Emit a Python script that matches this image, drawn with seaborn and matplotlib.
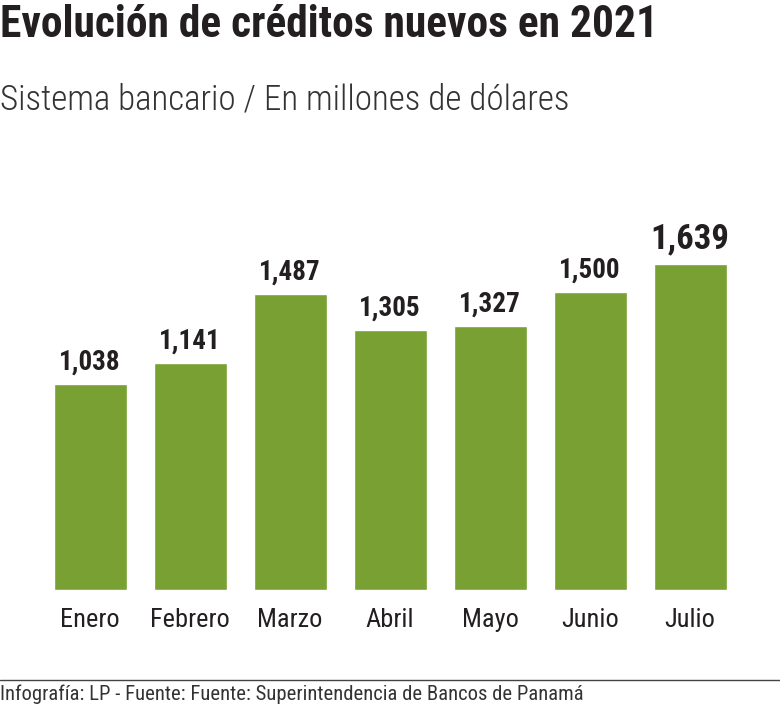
import seaborn as sns
import matplotlib.pyplot as plt
import pandas as pd
from matplotlib import font_manager

months = ["Enero", "Febrero", "Marzo", "Abril", "Mayo", "Junio", "Julio"]
values = [1038, 1141, 1487, 1305, 1327, 1500, 1639]

df = pd.DataFrame({"Mes": months, "Monto": values})

# pick a narrow face if one is around
names = {f.name for f in font_manager.fontManager.ttflist}
family, stretch = "DejaVu Sans", "condensed"
for cand in ["Roboto Condensed", "Liberation Sans Narrow", "Open Sans Condensed", "Noto Sans Condensed"]:
    if cand in names:
        family, stretch = cand, "normal"
        break
else:
    cond = [f for f in font_manager.fontManager.ttflist
            if f.stretch in ("condensed", "semi-condensed", "extra-condensed") or "Condensed" in f.fname]
    if cond:
        family = cond[0].name

green = "#78a032"
ink = "#231f20"

sns.set_style("white")
plt.rcParams["font.family"] = [family, "DejaVu Sans"]
plt.rcParams["font.stretch"] = stretch

fig = plt.figure(figsize=(7.8, 7.08), dpi=100)
ax = fig.add_axes([40 / 780, 118 / 708, 700 / 780, 358 / 708])

sns.barplot(data=df, x="Mes", y="Monto", color=green, saturation=1, width=0.73, ax=ax)

ax.set_xlim(-0.5, 6.5)
ax.set_ylim(0, 1800)
ax.set_xlabel("")
ax.set_ylabel("")
ax.set_yticks([])
ax.tick_params(axis="x", length=0, pad=13, labelsize=19, labelcolor=ink)
sns.despine(ax=ax, left=True, bottom=True)

# value labels, last one larger
for i, v in enumerate(values):
    big = i == len(values) - 1
    ax.annotate(f"{v:,}", (i, v), xytext=(0, 6), textcoords="offset points",
                ha="center", va="bottom", fontsize=25 if big else 19.5,
                fontweight="bold", color=ink)

renderer = fig.canvas.get_renderer()


def fit(t, width_px):
    # shrink/grow a header text so it spans the same width as in the layout
    w = t.get_window_extent(renderer).width
    t.set_fontsize(t.get_fontsize() * width_px / w)


title = fig.text(0, 1 - 4 / 708, "Evolución de créditos nuevos en 2021", ha="left", va="top",
                 fontsize=30, fontweight="bold", color=ink)
fit(title, 660)
sub = fig.text(0, 1 - 100 / 708, "Sistema bancario / En millones de dólares", ha="left", va="center",
               fontsize=20, fontweight="light", color="#333333")
fit(sub, 568)

fig.add_artist(plt.Line2D([0, 1], [1 - 680 / 708] * 2, color="#444444", lw=1))
foot = fig.text(0, 1 - 694 / 708, "Infografía: LP - Fuente: Fuente: Superintendencia de Bancos de Panamá",
                ha="left", va="center", fontsize=12, color="#333333")
fit(foot, 582)

fig.savefig("out.png", dpi=100)
